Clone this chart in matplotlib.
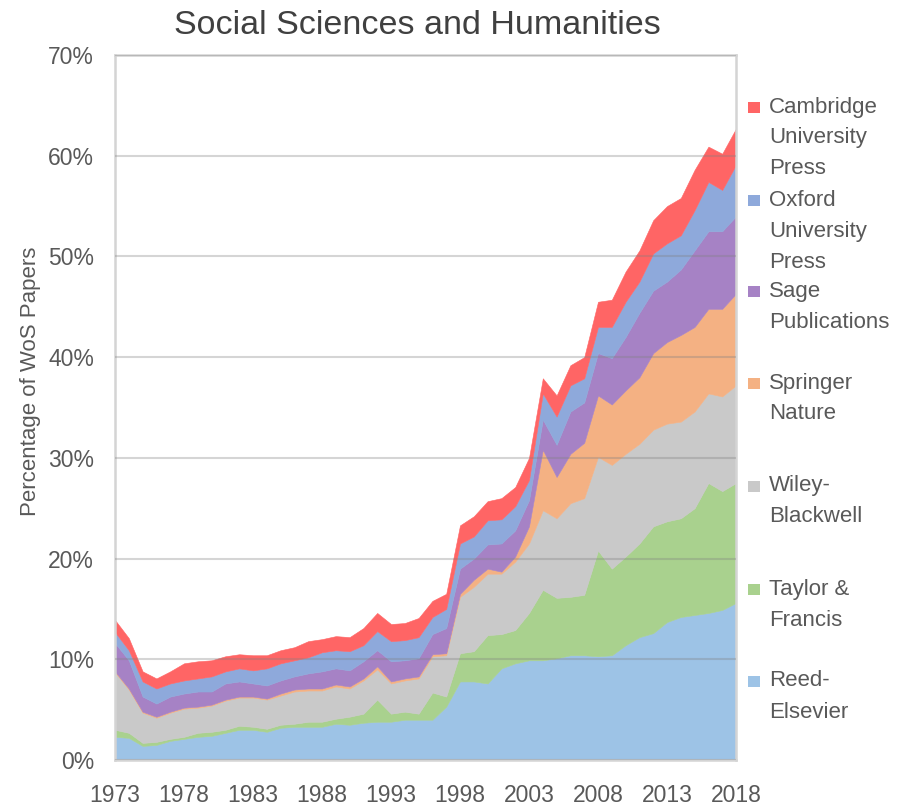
import matplotlib
matplotlib.use('Agg')
import matplotlib.pyplot as plt
from matplotlib.patches import Rectangle
from matplotlib import font_manager

# ---------------- data (percentage of WoS papers, per publisher) ----------------
years = list(range(1973, 2019))

reed_elsevier = [2.3, 2.2, 1.4, 1.5, 1.9, 2.1, 2.3, 2.4, 2.7, 3.0,
                 3.0, 2.8, 3.2, 3.3, 3.3, 3.3, 3.6, 3.5, 3.7, 3.8,
                 3.8, 4.0, 4.0, 4.0, 5.3, 7.8, 7.8, 7.6, 9.1, 9.6,
                 9.9, 9.9, 10.1, 10.4, 10.4, 10.3, 10.4, 11.4, 12.2, 12.6,
                 13.7, 14.2, 14.4, 14.6, 14.9, 15.6]
taylor_francis = [0.7, 0.5, 0.3, 0.3, 0.2, 0.2, 0.4, 0.4, 0.3, 0.4,
                  0.3, 0.3, 0.3, 0.3, 0.5, 0.5, 0.5, 0.8, 0.9, 2.2,
                  0.8, 0.8, 0.6, 2.7, 1.0, 2.8, 3.0, 4.8, 3.4, 3.3,
                  4.7, 7.0, 6.0, 5.8, 6.0, 10.5, 8.6, 8.8, 9.3, 10.6,
                  10.0, 9.8, 10.6, 12.9, 11.8, 11.9]
wiley_blackwell = [5.7, 4.3, 3.0, 2.4, 2.6, 2.8, 2.5, 2.6, 2.9, 2.8,
                   2.9, 2.9, 2.9, 3.2, 3.1, 3.1, 3.2, 2.8, 3.3, 3.0,
                   3.0, 3.1, 3.5, 3.6, 4.1, 5.6, 6.4, 6.1, 6.0, 6.8,
                   6.9, 7.9, 7.9, 9.3, 9.6, 9.3, 10.3, 10.2, 9.9, 9.6,
                   9.7, 9.6, 9.6, 8.9, 9.4, 9.7]
springer_nature = [0.1, 0.1, 0.1, 0.1, 0.1, 0.1, 0.1, 0.1, 0.1, 0.1,
                   0.1, 0.1, 0.2, 0.2, 0.2, 0.2, 0.2, 0.2, 0.2, 0.3,
                   0.2, 0.2, 0.2, 0.2, 0.2, 0.3, 0.7, 0.5, 0.2, 0.5,
                   1.7, 6.0, 4.1, 4.9, 5.5, 6.1, 6.0, 6.3, 6.6, 7.6,
                   8.1, 8.6, 8.4, 8.4, 8.7, 9.1]
sage = [2.8, 2.8, 1.5, 1.3, 1.5, 1.4, 1.5, 1.3, 1.6, 1.5,
        1.3, 1.3, 1.3, 1.3, 1.5, 1.7, 1.6, 1.6, 1.7, 1.6,
        2.0, 1.8, 1.8, 2.0, 2.5, 2.5, 2.1, 2.4, 2.8, 2.6,
        2.6, 3.0, 3.2, 4.2, 4.0, 4.2, 4.6, 5.3, 6.4, 6.2,
        6.0, 6.5, 7.6, 7.7, 7.7, 7.7]
oxford_up = [1.1, 1.0, 1.5, 1.5, 1.3, 1.3, 1.3, 1.5, 1.2, 1.3,
             1.3, 1.7, 1.7, 1.6, 1.6, 1.9, 1.8, 1.9, 1.6, 1.9,
             2.0, 2.0, 2.1, 1.7, 1.9, 2.5, 2.2, 2.4, 2.4, 2.4,
             2.0, 2.6, 2.8, 2.6, 2.4, 2.6, 3.1, 3.5, 3.1, 3.7,
             3.8, 3.4, 4.0, 4.9, 4.1, 5.1]
cambridge_up = [1.2, 1.2, 1.0, 1.0, 1.2, 1.7, 1.7, 1.6, 1.5, 1.4,
                1.5, 1.3, 1.3, 1.3, 1.6, 1.3, 1.4, 1.4, 1.7, 1.8,
                1.7, 1.7, 1.9, 1.6, 1.5, 1.8, 2.0, 1.9, 2.1, 1.9,
                2.2, 1.5, 2.1, 2.0, 2.1, 2.5, 2.7, 3.0, 3.1, 3.3,
                3.7, 3.7, 4.0, 3.5, 3.6, 3.6]

series_labels = ["Reed-\nElsevier", "Taylor &\nFrancis", "Wiley-\nBlackwell",
                 "Springer\nNature", "Sage\nPublications",
                 "Oxford\nUniversity\nPress", "Cambridge\nUniversity\nPress"]
series_colors = ["#9DC3E6", "#A9D18E", "#C9C9C9", "#F4B183",
                 "#A682C5", "#8EA9DB", "#FF6565"]
xtick_years = years[::5]
ytick_values = [0, 10, 20, 30, 40, 50, 60, 70]
title_text = "Social Sciences and Humanities"
ylabel_text = "Percentage of WoS Papers"

# ---------------- fonts ----------------
def pick(fams):
    for f in fams:
        try:
            font_manager.findfont(f, fallback_to_default=False)
            return f
        except Exception:
            pass
    return "DejaVu Sans"

REG = pick(["Liberation Sans", "Arial", "DejaVu Sans"])
NAR = pick(["Liberation Sans Narrow", "Arial Narrow", "Liberation Sans"])
narrow_ok = NAR != REG
tsize = 19 if narrow_ok else 16.5
lsize = 19 if narrow_ok else 16

TXT = "#595959"

W, H = 903, 806
fig = plt.figure(figsize=(W / 100, H / 100), dpi=100)
L, R, T, B = 115, 736, 55, 760
ax = fig.add_axes([L / W, 1 - B / H, (R - L) / W, (B - T) / H])

polys = ax.stackplot(years, reed_elsevier, taylor_francis, wiley_blackwell,
                     springer_nature, sage, oxford_up, cambridge_up,
                     colors=series_colors, linewidth=0)
for p, c in zip(polys, series_colors):
    p.set_edgecolor(c)
    p.set_linewidth(0.4)

ax.set_xlim(years[0], years[-1])
ax.set_ylim(0, 70)
ax.set_xticks(xtick_years)
ax.set_xticklabels([str(y) for y in xtick_years])
ax.set_yticks(ytick_values)
ax.set_yticklabels([f"{v}%" for v in ytick_values])
ax.tick_params(length=0, colors=TXT, labelsize=tsize)
ax.tick_params(axis='y', pad=15)
ax.tick_params(axis='x', pad=17)
for lab in ax.get_xticklabels() + ax.get_yticklabels():
    lab.set_fontfamily(NAR)

ax.set_axisbelow(False)
ax.yaxis.grid(True, color="#808080", alpha=0.33, linewidth=1.5)
ax.xaxis.grid(False)
for s in ax.spines.values():
    s.set_color("#D4D4D4")
    s.set_linewidth(1.8)

fig.text(417 / W, 1 - 34 / H, title_text, ha='center', va='baseline',
         fontsize=24.5, color="#404040", fontfamily=REG)
fig.text(31 / W, 1 - 381 / H, ylabel_text, rotation=90, ha='center', va='center',
         fontsize=16, color=TXT, fontfamily=REG)

# ---------------- legend (top to bottom) ----------------
legend_y = [107, 200, 291, 383, 486, 589, 681]
order = list(range(len(series_labels)))[::-1]
for yy, idx in zip(legend_y, order):
    fig.patches.append(Rectangle((748 / W, 1 - (yy + 6) / H), 12 / W, 11 / H,
                                 transform=fig.transFigure,
                                 facecolor=series_colors[idx], edgecolor='none'))
    for k, line in enumerate(series_labels[idx].split("\n")):
        fig.text(769 / W, 1 - (yy + 31 * k) / H, line, ha='left', va='center',
                 fontsize=lsize, color=TXT, fontfamily=NAR)

fig.savefig("out.png", dpi=100, facecolor="white")
